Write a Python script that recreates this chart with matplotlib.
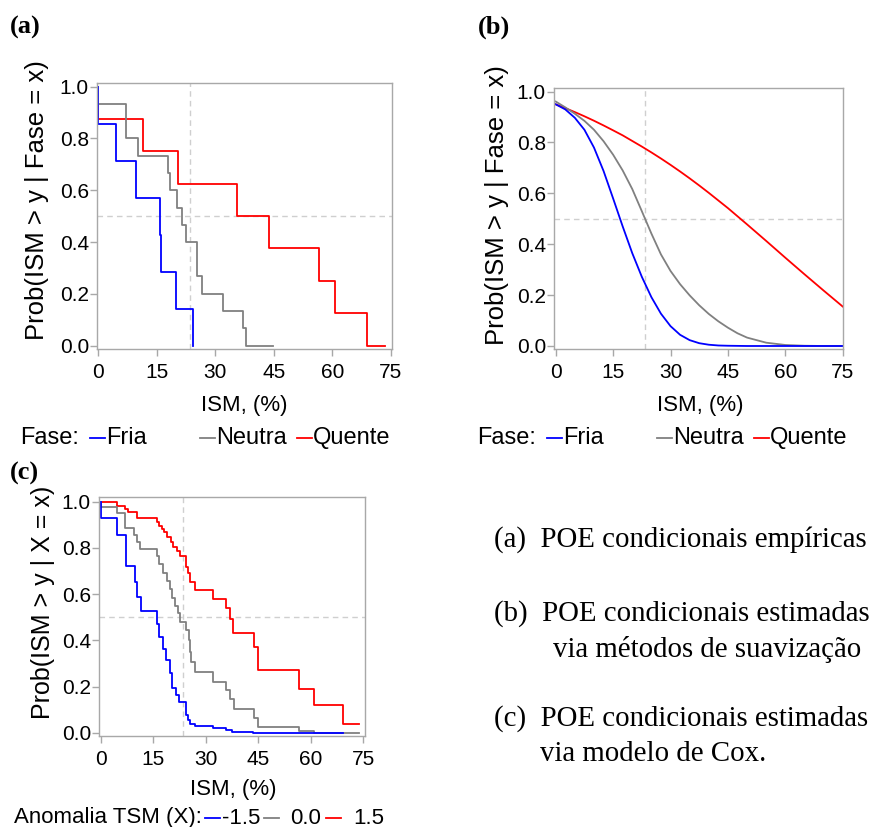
import matplotlib
matplotlib.use("Agg")
import matplotlib.pyplot as plt
from matplotlib.lines import Line2D

W, H = 877, 827

# (a) empirical conditional POE by phase (Kaplan-Meier style steps)
fria_t = [0, 0, 4.5, 9.7, 15.8, 16.2, 19.9, 24.4]
fria_s = [1.0, 0.857, 0.714, 0.571, 0.429, 0.286, 0.143, 0.0]
neutra_t = [0, 0, 7.1, 10.2, 17.9, 18.5, 20.2, 21.5, 22.4, 25.2, 25.4, 26.7, 32.0, 37.0, 37.9, 44.7]
neutra_s = [1.0, 0.933, 0.8, 0.733, 0.667, 0.6, 0.533, 0.467, 0.4, 0.333, 0.267, 0.2, 0.133, 0.067, 0.0, 0.0]
quente_t = [0, 0, 11.4, 20.5, 35.7, 43.7, 56.5, 60.8, 69.0, 73.6]
quente_s = [1.0, 0.875, 0.75, 0.625, 0.5, 0.375, 0.25, 0.125, 0.0, 0.0]

# (b) smoothed estimates
ism_grid = [0, 2.5, 5, 7.5, 10, 12.5, 15, 17.5, 20, 22.5, 25, 27.5, 30, 32.5, 35,
            37.5, 40, 42.5, 45, 47.5, 50, 55, 60, 65, 70, 75]
suav_fria = [0.95, 0.93, 0.897, 0.85, 0.78, 0.688, 0.58, 0.47, 0.365, 0.272, 0.192,
             0.127, 0.078, 0.044, 0.023, 0.011, 0.005, 0.002, 0.001, 0.0005, 0.0,
             0.0, 0.0, 0.0, 0.0, 0.0]
suav_neutra = [0.961, 0.938, 0.913, 0.885, 0.85, 0.805, 0.752, 0.69, 0.617, 0.53, 0.442,
               0.36, 0.295, 0.243, 0.199, 0.16, 0.126, 0.097, 0.072, 0.05, 0.033,
               0.013, 0.004, 0.001, 0.0, 0.0]
suav_quente = [0.95, 0.935, 0.9195, 0.903, 0.8855, 0.867, 0.8477, 0.828, 0.806, 0.784,
               0.761, 0.737, 0.712, 0.686, 0.659, 0.631, 0.602, 0.572, 0.542, 0.51,
               0.478, 0.413, 0.347, 0.282, 0.218, 0.155]

# (c) Cox model, TSM anomaly = -1.5, 0.0, 1.5
cox_m15_t = [0, 0, 4.5, 7.0, 9.6, 10.2, 11.4, 15.9, 16.6, 17.7, 18.7, 19.8, 20.3, 21.5,
             22.2, 24.3, 25.0, 25.5, 26.9, 32.1, 35.8, 37.5, 43.6, 69.3]
cox_m15_s = [1.0, 0.93, 0.856, 0.722, 0.652, 0.588, 0.527, 0.47, 0.414, 0.362, 0.315,
             0.257, 0.195, 0.163, 0.132, 0.079, 0.056, 0.04, 0.029, 0.019, 0.012,
             0.004, 0.001, 0.001]
cox_0_t = [0, 0, 4.5, 6.9, 9.5, 10.2, 11.2, 15.9, 16.6, 17.6, 18.8, 19.7, 20.3, 21.3,
           22.0, 22.6, 24.4, 25.1, 25.5, 25.7, 26.9, 32.1, 35.7, 37.0, 37.9, 43.8,
           44.9, 56.7, 60.9, 73.8]
cox_0_s = [1.0, 0.978, 0.95, 0.888, 0.856, 0.826, 0.796, 0.764, 0.73, 0.693, 0.658,
           0.62, 0.582, 0.55, 0.517, 0.481, 0.444, 0.401, 0.351, 0.307, 0.264, 0.221,
           0.185, 0.144, 0.101, 0.062, 0.026, 0.009, 0.0, 0.0]
cox_p15_t = [0, 0, 4.5, 6.9, 7.8, 10.2, 15.9, 16.6, 17.3, 18.1, 18.8, 20.0, 20.7, 21.6,
             22.6, 24.2, 25.0, 25.5, 26.8, 32.0, 35.8, 36.9, 37.8, 43.8, 44.8, 56.7,
             60.9, 69.3, 73.7]
cox_p15_s = [1.0, 0.997, 0.983, 0.968, 0.954, 0.928, 0.911, 0.896, 0.882, 0.867, 0.846,
             0.827, 0.805, 0.786, 0.766, 0.716, 0.693, 0.654, 0.618, 0.577, 0.538,
             0.491, 0.433, 0.369, 0.271, 0.188, 0.12, 0.04, 0.04]

ism_ref = 23.4
poe_ref = 0.5

c_blue, c_gray, c_red = "#0000ff", "#808080", "#ff0000"
sans = "Liberation Sans"
serif = "Liberation Serif"

fig = plt.figure(figsize=(W / 100, H / 100), dpi=100)


def px(x, y):
    return x / W, 1 - y / H


def make_ax(left, top, right, bottom, xlim, ylim):
    ax = fig.add_axes([left / W, 1 - bottom / H, (right - left) / W, (bottom - top) / H])
    ax.set_xlim(*xlim)
    ax.set_ylim(*ylim)
    ax.set_xticks([0, 15, 30, 45, 60, 75])
    ax.set_yticks([0, 0.2, 0.4, 0.6, 0.8, 1.0])
    ax.set_yticklabels(["0.0", "0.2", "0.4", "0.6", "0.8", "1.0"])
    for sp in ax.spines.values():
        sp.set_color("#a8a8a8")
        sp.set_linewidth(1)
    ax.tick_params(direction="out", length=5, width=1, color="#a8a8a8", labelsize=15)
    ax.tick_params(axis="x", pad=5)
    ax.tick_params(axis="y", pad=1)
    for lab in ax.get_xticklabels() + ax.get_yticklabels():
        lab.set_fontfamily(sans)
    ax.axvline(ism_ref, color="#cfcfcf", lw=1, ls=(0, (4, 3)), zorder=1)
    ax.axhline(poe_ref, color="#cfcfcf", lw=1, ls=(0, (4, 3)), zorder=1)
    return ax


# panel (a)
ax_a = make_ax(97.3, 82.7, 392.3, 349, (-0.25, 75.4), (-0.013, 1.015))
ax_a.plot(quente_t, quente_s, drawstyle="steps-post", color=c_red, lw=1.3)
ax_a.plot(neutra_t, neutra_s, drawstyle="steps-post", color=c_gray, lw=1.3)
ax_a.plot(fria_t, fria_s, drawstyle="steps-post", color=c_blue, lw=1.3)

# panel (b)
ax_b = make_ax(554.3, 88.3, 843.3, 349.3, (-0.37, 75.15), (-0.013, 1.013))
ax_b.plot(ism_grid, suav_quente, color=c_red, lw=1.3)
ax_b.plot(ism_grid, suav_neutra, color=c_gray, lw=1.3)
ax_b.plot(ism_grid, suav_fria, color=c_blue, lw=1.3)

# panel (c)
ax_c = make_ax(99.3, 497.3, 365.3, 736, (-0.5, 75.6), (-0.014, 1.019))
ax_c.plot(cox_p15_t, cox_p15_s, drawstyle="steps-post", color=c_red, lw=1.3)
ax_c.plot(cox_0_t, cox_0_s, drawstyle="steps-post", color=c_gray, lw=1.3)
ax_c.plot(cox_m15_t, cox_m15_s, drawstyle="steps-post", color=c_blue, lw=1.3)

# axis labels
lab_kw = dict(fontfamily=sans, ha="center", va="center")
fig.text(*px(37, 200), "Prob(ISM > y | Fase = x)", rotation=90, fontsize=18.5, **lab_kw)
fig.text(*px(497, 205), "Prob(ISM > y | Fase = x)", rotation=90, fontsize=18.5, **lab_kw)
fig.text(*px(43, 602), "Prob(ISM > y | X = x)", rotation=90, fontsize=18, **lab_kw)
fig.text(*px(244, 405), "ISM, (%)", fontsize=16, **lab_kw)
fig.text(*px(700, 405), "ISM, (%)", fontsize=16, **lab_kw)
fig.text(*px(233, 789), "ISM, (%)", fontsize=16, **lab_kw)


# legends drawn as text + short line segments
def legend_row(y, items, size):
    for kind, x0, val in items:
        if kind == "t":
            fig.text(*px(x0, y), val, fontfamily=sans, fontsize=size, ha="left", va="center")
        else:
            fig.add_artist(Line2D([x0 / W, (x0 + 15) / W], [1 - y / H, 1 - y / H],
                                  color=val, lw=1.3, transform=fig.transFigure))


for dx in (0, 457):
    legend_row(438, [("t", 20 + dx, "Fase:"), ("l", 90 + dx, c_blue), ("t", 106 + dx, "Fria"),
                     ("l", 200 + dx, c_gray), ("t", 216 + dx, "Neutra"),
                     ("l", 297 + dx, c_red), ("t", 313 + dx, "Quente")], 17)
legend_row(818, [("t", 14, "Anomalia TSM (X):"), ("l", 205, c_blue), ("t", 222, "-1.5"),
                 ("l", 264, c_gray), ("t", 290, "0.0"), ("l", 326, c_red), ("t", 353, "1.5")], 16)

# panel letters
for x0, y0, s in [(10, 27, "(a)"), (478, 27, "(b)"), (10, 473, "(c)")]:
    fig.text(*px(x0, y0), s, fontfamily=serif, fontweight="bold", fontsize=19,
             ha="left", va="center")

# caption text on the right
cap_kw = dict(fontfamily=serif, fontsize=20.8, ha="left", va="baseline")
fig.text(*px(494, 547), "(a)  POE condicionais empíricas", **cap_kw)
fig.text(*px(494, 621), "(b)  POE condicionais estimadas", **cap_kw)
fig.text(*px(553, 657), "via métodos de suavização", **cap_kw)
fig.text(*px(494, 726), "(c)  POE condicionais estimadas", **cap_kw)
fig.text(*px(540, 761), "via modelo de Cox.", **cap_kw)

fig.savefig("out.png", dpi=100)
